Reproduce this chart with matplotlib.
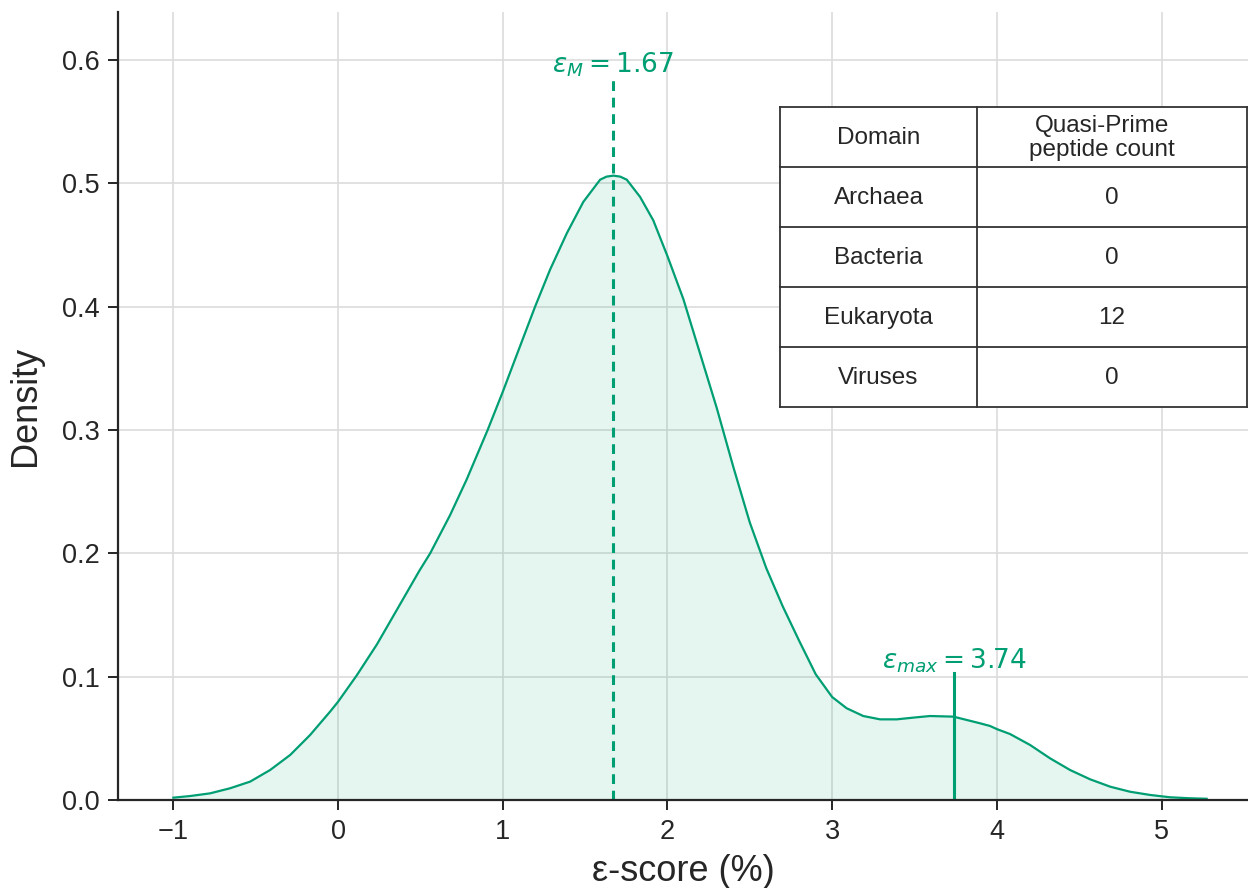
import matplotlib
matplotlib.use("Agg")
import matplotlib.pyplot as plt

# ---- data ----
eps_x = [-1.0, -0.899, -0.777, -0.656, -0.534, -0.413, -0.291, -0.170, -0.049, 0.0,
         0.113, 0.235, 0.356, 0.494, 0.559, 0.680, 0.781, 0.908, 1.0, 1.085,
         1.196, 1.287, 1.389, 1.489, 1.591, 1.630, 1.672, 1.713, 1.753, 1.834,
         1.914, 2.0, 2.097, 2.198, 2.299, 2.400, 2.500, 2.600, 2.700, 2.800,
         2.900, 3.000, 3.088, 3.189, 3.291, 3.392, 3.493, 3.594, 3.736, 3.898,
         3.959, 4.0, 4.080, 4.202, 4.323, 4.445, 4.566, 4.688, 4.809, 4.930,
         5.052, 5.173, 5.274]
density = [0.0019, 0.0032, 0.0054, 0.0095, 0.0149, 0.0243, 0.0365, 0.0527, 0.0716, 0.0797,
           0.101, 0.126, 0.154, 0.186, 0.200, 0.231, 0.260, 0.300, 0.331, 0.361,
           0.400, 0.430, 0.4596, 0.485, 0.503, 0.5055, 0.5063, 0.5055, 0.503, 0.489,
           0.470, 0.441, 0.406, 0.362, 0.318, 0.270, 0.225, 0.188, 0.157, 0.129,
           0.102, 0.0835, 0.0744, 0.0681, 0.0654, 0.0654, 0.0668, 0.0681, 0.0676, 0.0622,
           0.0600, 0.0575, 0.0535, 0.0446, 0.0338, 0.0243, 0.0168, 0.0108, 0.0067, 0.0041,
           0.0022, 0.0014, 0.001]
eps_median = 1.67
median_line_top = 0.584
eps_max = 3.74
max_line_top = 0.103

domains = ["Archaea", "Bacteria", "Eukaryota", "Viruses"]
counts = [0, 0, 12, 0]
col_labels = ["Domain", "Quasi-Prime\npeptide count"]

xticks = [-1, 0, 1, 2, 3, 4, 5]
yticks = [0.0, 0.1, 0.2, 0.3, 0.4, 0.5, 0.6]

green = "#009E73"
dark = "#262626"

plt.rcParams['font.family'] = ['Liberation Sans', 'DejaVu Sans']

fig = plt.figure(figsize=(12.48, 8.88), dpi=100)
ax = fig.add_axes([0.0946, 0.0991, 0.9054, 0.8874])

ax.fill_between(eps_x, density, 0, color=green, alpha=0.1, linewidth=0)
ax.plot(eps_x, density, color=green, linewidth=1.6, solid_joinstyle="round")

ax.plot([eps_median, eps_median], [0, median_line_top], color=green,
        linewidth=2.2, linestyle=(0, (3.2, 2.2)))
ax.plot([eps_max, eps_max], [0, max_line_top], color=green, linewidth=2.2)

ax.text(eps_median, 0.585, r"$\varepsilon_M = 1.67$", color=green,
        fontsize=19, ha="center", va="bottom", family="DejaVu Sans")
ax.text(eps_max, 0.1015, r"$\varepsilon_{max} = 3.74$", color=green,
        fontsize=19, ha="center", va="bottom", family="DejaVu Sans")

ax.set_xlim(-1.336, 5.525)
ax.set_ylim(0, 0.639)
ax.set_xticks(xticks)
ax.set_yticks(yticks)
ax.set_yticklabels([f"{v:.1f}" for v in yticks])

ax.grid(True, color="#dcdcdc", linewidth=1.2)
ax.set_axisbelow(True)
for s in ["top", "right"]:
    ax.spines[s].set_visible(False)
for s in ["left", "bottom"]:
    ax.spines[s].set_color(dark)
    ax.spines[s].set_linewidth(1.6)
ax.tick_params(axis="both", which="major", labelsize=19.5, length=7, width=1.4,
               color=dark, labelcolor=dark)
ax.tick_params(axis="x", pad=7)
ax.tick_params(axis="y", pad=6)

ax.set_xlabel("ε-score (%)", fontsize=26, color=dark, labelpad=6)
ax.set_ylabel("Density", fontsize=26, color=dark, labelpad=14)

# ---- table drawn in axes coordinates ----
tx0, tx1, tsplit = 0.586, 0.999, 0.760
ty_top, ty_bot = 0.880, 0.499
nrows = len(domains) + 1
rh = (ty_top - ty_bot) / nrows
tr = ax.transAxes
lkw = dict(color="#333333", linewidth=1.3, transform=tr, clip_on=False, zorder=5)
ax.fill([tx0, tx1, tx1, tx0], [ty_bot, ty_bot, ty_top, ty_top], color="white",
        transform=tr, zorder=4, clip_on=False)
for i in range(nrows + 1):
    yy = ty_top - i * rh
    ax.plot([tx0, tx1], [yy, yy], **lkw)
for xx in (tx0, tsplit, tx1):
    ax.plot([xx, xx], [ty_bot, ty_top], **lkw)
c0 = (tx0 + tsplit) / 2
c1 = 0.8796
c1h = 0.8708
tkw = dict(fontsize=17.5, color=dark, ha="center", va="center", transform=tr, zorder=6)
ax.text(c0, ty_top - 0.5 * rh - 0.002, col_labels[0], **tkw)
ax.text(c1h, ty_top - 0.5 * rh - 0.002, col_labels[1], linespacing=1.1, **tkw)
for i, (d, c) in enumerate(zip(domains, counts)):
    yc = ty_top - (i + 1.5) * rh - 0.002
    ax.text(c0, yc, d, **tkw)
    ax.text(c1, yc, str(c), **tkw)

fig.savefig("out.png", dpi=100)
